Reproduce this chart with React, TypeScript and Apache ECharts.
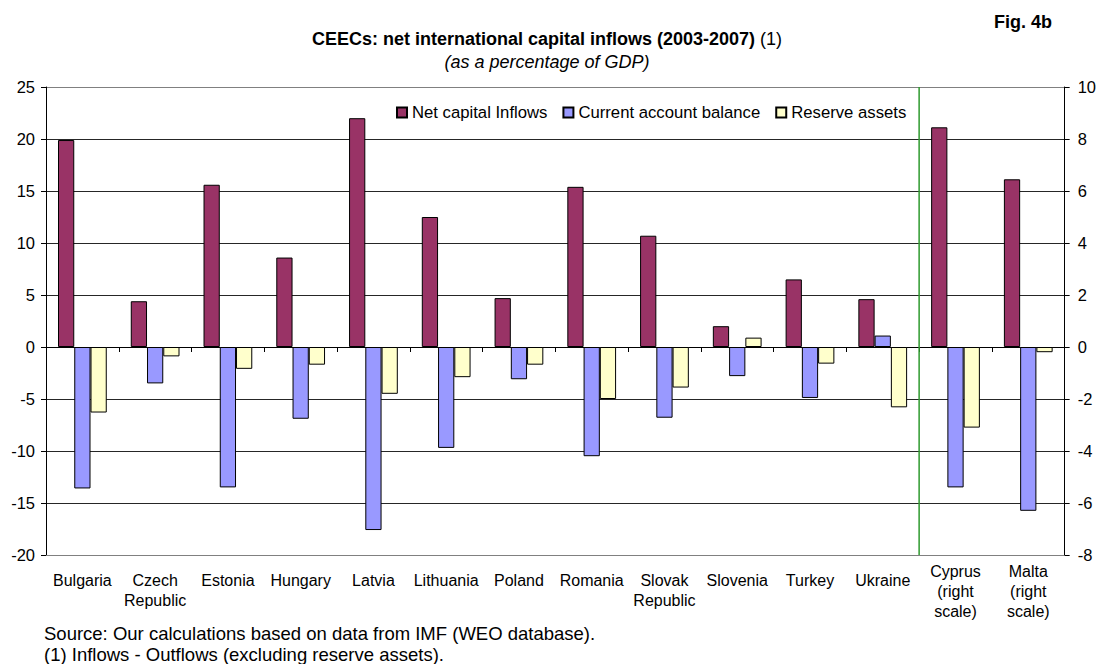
import React, { useEffect, useRef } from "react";
import * as echarts from "echarts";

const FONT = "'Liberation Sans', Arial, Helvetica, sans-serif";

const categories = [
  "Bulgaria",
  "Czech\nRepublic",
  "Estonia",
  "Hungary",
  "Latvia",
  "Lithuania",
  "Poland",
  "Romania",
  "Slovak\nRepublic",
  "Slovenia",
  "Turkey",
  "Ukraine",
  "Cyprus\n(right\nscale)",
  "Malta\n(right\nscale)",
];

const seriesNames = ["Net capital Inflows", "Current account balance", "Reserve assets"];

// left scale (% of GDP): the twelve countries up to Ukraine
const netInflowsLeft = [19.9, 4.4, 15.6, 8.6, 22.0, 12.5, 4.7, 15.4, 10.7, 2.0, 6.5, 4.6, null, null];
const currentAccountLeft = [-13.6, -3.5, -13.5, -6.9, -17.6, -9.7, -3.1, -10.5, -6.8, -2.8, -4.9, 1.1, null, null];
const reserveAssetsLeft = [-6.3, -0.9, -2.1, -1.7, -4.5, -2.9, -1.7, -5.0, -3.9, 0.9, -1.6, -5.8, null, null];

// right scale (% of GDP): Cyprus and Malta
const netInflowsRight = [null, null, null, null, null, null, null, null, null, null, null, null, 8.45, 6.45];
const currentAccountRight = [null, null, null, null, null, null, null, null, null, null, null, null, -5.4, -6.3];
const reserveAssetsRight = [null, null, null, null, null, null, null, null, null, null, null, null, -3.1, -0.2];

// separator between the two scales, on a 0..14 category-slot axis
const separatorLine = [
  [12, -20],
  [12, 25],
];

const colors = ["#993366", "#9999ff", "#ffffcc"];

// horizontal grid lines from -20 up to 25: the outer two frame the plot in grey
const gridLineColors = ["#808080", "#262626", "#262626", "#262626", "#262626", "#262626", "#262626", "#262626", "#262626", "#808080"];

export default function App() {
  const ref = useRef<HTMLDivElement>(null);

  useEffect(() => {
    if (!ref.current) return;
    const chart = echarts.init(ref.current, undefined, { renderer: "svg" });

    const labelData = categories.map((c) =>
      c.split("\n").length === 3
        ? { value: c }
        : { value: c, textStyle: { padding: [9, 0, 0, 0] } }
    );

    const bar = (name: string, data: (number | null)[], yAxisIndex: number, idx: number) => ({
      type: "bar",
      name,
      data,
      xAxisIndex: 0,
      yAxisIndex,
      stack: "s" + idx,
      barGap: "0%",
      barCategoryGap: "33%",
      itemStyle: { color: colors[idx], borderColor: "#000", borderWidth: 1 },
      emphasis: { disabled: true },
    });

    chart.setOption({
      animation: false,
      textStyle: { fontFamily: FONT },
      grid: { left: 46, right: 33, top: 87, bottom: 109, containLabel: false },
      legend: {
        data: seriesNames,
        left: 391,
        top: 99,
        icon: "rect",
        itemWidth: 10,
        itemHeight: 10,
        itemGap: 15,
        textStyle: { fontSize: 16.7, color: "#000", fontFamily: FONT },
        selectedMode: false,
      },
      xAxis: [
        {
          type: "category",
          data: labelData,
          position: "bottom",
          axisLine: { onZero: false, lineStyle: { color: "#808080", width: 1 } },
          axisTick: { show: false },
          axisLabel: {
            interval: 0,
            fontSize: 16,
            color: "#000",
            lineHeight: 20,
            margin: 6,
            fontFamily: FONT,
          },
          splitLine: { show: false },
        },
        {
          type: "category",
          data: categories,
          position: "bottom",
          axisLine: { onZero: true, onZeroAxisIndex: 0, lineStyle: { color: "#000", width: 1 } },
          axisTick: { show: true, length: 5, lineStyle: { color: "#000" } },
          axisLabel: { show: false },
          splitLine: { show: false },
        },
        {
          type: "value",
          min: 0,
          max: 14,
          show: false,
        },
      ],
      yAxis: [
        {
          type: "value",
          position: "left",
          min: -20,
          max: 25,
          interval: 5,
          axisLine: { show: true, lineStyle: { color: "#000" } },
          axisTick: { show: true, length: 5, lineStyle: { color: "#000" } },
          axisLabel: { fontSize: 16.5, color: "#000", margin: 11, fontFamily: FONT },
          splitLine: { show: true, lineStyle: { color: gridLineColors, width: 1 } },
        },
        {
          type: "value",
          position: "right",
          min: -8,
          max: 10,
          interval: 2,
          axisLine: { show: true, lineStyle: { color: "#000" } },
          axisTick: { show: true, length: 5, lineStyle: { color: "#000" } },
          axisLabel: { fontSize: 16.5, color: "#000", margin: 13, fontFamily: FONT },
          splitLine: { show: false },
        },
      ],
      series: [
        bar(seriesNames[0], netInflowsLeft, 0, 0),
        bar(seriesNames[1], currentAccountLeft, 0, 1),
        bar(seriesNames[2], reserveAssetsLeft, 0, 2),
        bar(seriesNames[0], netInflowsRight, 1, 0),
        bar(seriesNames[1], currentAccountRight, 1, 1),
        bar(seriesNames[2], reserveAssetsRight, 1, 2),
        {
          type: "line",
          name: "separator",
          xAxisIndex: 2,
          yAxisIndex: 0,
          data: separatorLine,
          symbol: "none",
          silent: true,
          lineStyle: { color: "#2e9a2e", width: 1.5 },
          z: 5,
        },
      ],
      graphic: [
        {
          type: "text",
          x: 547,
          y: 39,
          style: {
            text: "{b|CEECs: net international capital inflows (2003-2007)}{n| (1)}",
            align: "center",
            verticalAlign: "middle",
            rich: {
              b: { fontSize: 18, fontWeight: "bold", fontFamily: FONT, fill: "#000" },
              n: { fontSize: 18, fontFamily: FONT, fill: "#000" },
            },
          },
        },
        {
          type: "text",
          x: 547,
          y: 62,
          style: {
            text: "(as a percentage of GDP)",
            align: "center",
            verticalAlign: "middle",
            fontSize: 18,
            fontStyle: "italic",
            fontFamily: FONT,
            fill: "#000",
          },
        },
        {
          type: "text",
          x: 1052,
          y: 22,
          style: {
            text: "Fig. 4b",
            align: "right",
            verticalAlign: "middle",
            fontSize: 18,
            fontWeight: "bold",
            fontFamily: FONT,
            fill: "#000",
          },
        },
        {
          type: "text",
          x: 44,
          y: 633,
          style: {
            text: "Source: Our calculations based on data from IMF (WEO database).",
            verticalAlign: "middle",
            fontSize: 18.5,
            fontFamily: FONT,
            fill: "#000",
          },
        },
        {
          type: "text",
          x: 44,
          y: 654,
          style: {
            text: "(1) Inflows - Outflows (excluding reserve assets).",
            verticalAlign: "middle",
            fontSize: 18.5,
            fontFamily: FONT,
            fill: "#000",
          },
        },
      ],
    });

    return () => chart.dispose();
  }, []);

  return (
    <div
      ref={ref}
      style={{ position: "fixed", left: 0, top: 0, width: 1099, height: 664, background: "#fff" }}
    />
  );
}
